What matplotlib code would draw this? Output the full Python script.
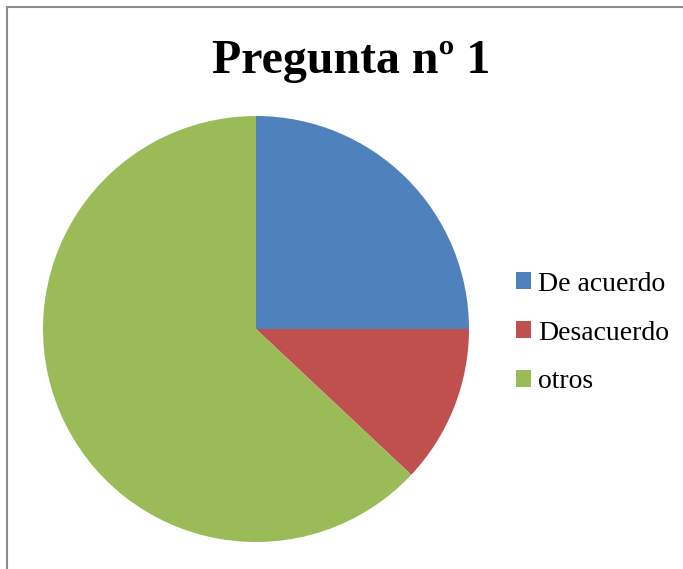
import matplotlib
matplotlib.use('Agg')
import matplotlib.pyplot as plt
import matplotlib.patches as mpatches

# data
labels = ['De acuerdo', 'Desacuerdo', 'otros']
values = [25, 12, 63]
colors = ['#4F81BD', '#C0504D', '#9BBB59']
title = 'Pregunta nº 1'

plt.rcParams['font.family'] = ['Liberation Serif', 'DejaVu Serif']

W, H = 683, 569
fig = plt.figure(figsize=(W / 100, H / 100), dpi=100)

# chart border (only top/left visible in the reference)
fig.patches.append(mpatches.Rectangle((6.5 / W, -0.05), 1.2, (H - 7) / H + 0.05,
                                      transform=fig.transFigure, fill=False,
                                      edgecolor='#8c8c8c', linewidth=1.5))

ax = fig.add_axes([43 / W, 27 / H, 426 / W, 426 / H])
wedges, _ = ax.pie(values, colors=colors, startangle=90, counterclock=False,
                   radius=1.0, wedgeprops=dict(linewidth=0))
ax.set_xlim(-1, 1)
ax.set_ylim(-1, 1)
ax.set_aspect('equal')

fig.text(351 / W, 1 - 73 / H, title, ha='center', va='baseline',
         fontsize=34.5, fontweight='bold')

handles = [mpatches.Patch(facecolor=c, edgecolor='none') for c in colors]
fig.legend(handles, labels, loc='center left', bbox_to_anchor=(516 / W, 1 - 333 / H),
           frameon=False, fontsize=20, handlelength=0.55, handleheight=0.55,
           handletextpad=0.25, labelspacing=0.86, borderpad=0, borderaxespad=0)

plt.savefig('out.png', dpi=100)
